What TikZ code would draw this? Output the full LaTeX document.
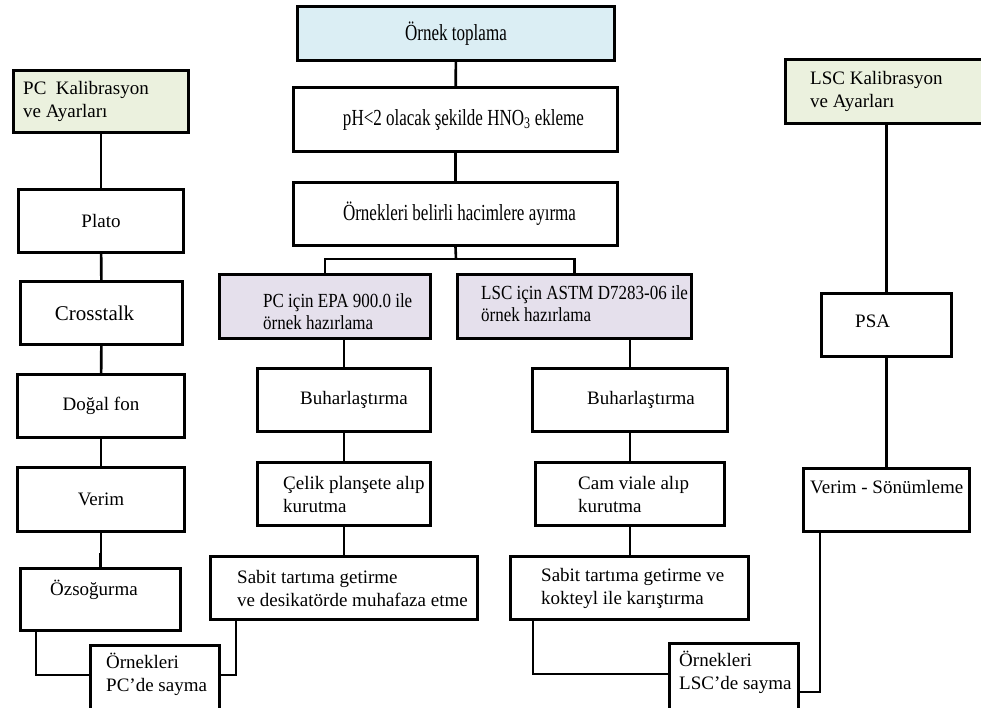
\documentclass[tikz,border=0pt]{standalone}
\usepackage{fontspec}
\setmainfont{Liberation Serif}
\newfontfamily\condfont[FakeStretch=0.74]{Liberation Serif}
\newfontfamily\semicondfont[FakeStretch=0.85]{Liberation Serif}
\definecolor{topblue}{HTML}{DBEEF4}
\definecolor{lav}{HTML}{E5E0EC}
\definecolor{grn}{HTML}{EBF1DE}
\tikzset{
  box/.style={draw, line width=2.6pt, inner sep=0pt},
  txt/.style={inner sep=0pt, align=left, font=\fontsize{19}{23}\selectfont},
  cond/.style={font=\condfont\fontsize{23}{27}\selectfont},
  semicond/.style={font=\semicondfont\fontsize{20}{22}\selectfont},
  conn/.style={line width=2.6pt},
}
\newcommand\mkbox[6]{%
  \node[box, fill=#6, minimum width={#4-#2-2.6}, minimum height={#5-#3-2.6}] (#1) at ({(#2+#4)/2},{(#3+#5)/2}) {};}
\begin{document}
\begin{tikzpicture}[x=1pt,y=-1pt]
\useasboundingbox (0,0) rectangle (981,708);
\clip (0,0) rectangle (981,708);
\fill[white] (0,0) rectangle (981,708);
% centre column
\mkbox{top}{296}{5}{616}{62}{topblue}
\node[txt, cond] (topt) at (top) {Örnek toplama};
\mkbox{ph}{292}{86}{619}{153}{white}
\node[txt, cond] (pht) at ([xshift=8pt]ph.center) {pH<2 olacak şekilde HNO\textsubscript{3} ekleme};
\mkbox{bel}{292}{181}{619}{247}{white}
\node[txt, cond] (belt) at ([xshift=4pt]bel.center) {Örnekleri belirli hacimlere ayırma};
\mkbox{pcprep}{218}{273}{432}{340}{lav}
\node[txt, semicond, anchor=west] (pcprept) at ([xshift=45pt,yshift=-5pt]pcprep.west) {PC için EPA 900.0 ile\\örnek hazırlama};
\mkbox{lscprep}{456}{273}{693}{340}{lav}
\node[txt, semicond, anchor=west] (lscprept) at ([xshift=25pt,yshift=3pt]lscprep.west) {LSC için ASTM D7283-06 ile\\örnek hazırlama};
\mkbox{pcbuh}{256}{367}{432}{433}{white}
\node[txt, anchor=west] (pcbuht) at ([xshift=44pt]pcbuh.west) {Buharlaştırma};
\mkbox{pccelik}{256}{461}{432}{527}{white}
\node[txt, anchor=west] (pccelikt) at ([xshift=27pt]pccelik.west) {Çelik planşete alıp\\kurutma};
\mkbox{pcsabit}{209}{555}{479}{621}{white}
\node[txt, anchor=west] (pcsabitt) at ([xshift=28pt]pcsabit.west) {Sabit tartıma getirme\\ve desikatörde muhafaza etme};
\mkbox{lscbuh}{531}{367}{729}{433}{white}
\node[txt, anchor=west] (lscbuht) at ([xshift=56pt]lscbuh.west) {Buharlaştırma};
\mkbox{lsccam}{534}{461}{726}{527}{white}
\node[txt, anchor=west] (lsccamt) at ([xshift=44pt]lsccam.west) {Cam viale alıp\\kurutma};
\mkbox{lscsabit}{509}{555}{750}{621}{white}
\node[txt, anchor=west] (lscsabitt) at ([xshift=32pt]lscsabit.west) {Sabit tartıma getirme ve\\kokteyl ile karıştırma};
\mkbox{pcsay}{89}{644}{221}{730}{white}
\node[txt, anchor=north west] (pcsayt) at ([xshift=17pt,yshift=-9pt]pcsay.north west) {Örnekleri\\PC’de sayma};
\mkbox{lscsay}{668}{642}{800}{730}{white}
\node[txt, anchor=north west] (lscsayt) at ([xshift=11pt,yshift=-9pt]lscsay.north west) {Örnekleri\\LSC’de sayma};
% left column
\mkbox{pckal}{12}{69}{190}{134}{grn}
\node[txt, anchor=west] (pckalt) at ([xshift=11pt]pckal.west) {PC~~Kalibrasyon\\ve Ayarları};
\mkbox{plato}{17}{188}{185}{254}{white}
\node[txt] (platot) at (plato) {Plato};
\mkbox{cross}{19}{280}{184}{346}{white}
\node[txt, font=\fontsize{21}{25}\selectfont] (crosst) at ([xshift=-7pt]cross.center) {Crosstalk};
\mkbox{dogal}{16}{373}{186}{439}{white}
\node[txt] (dogalt) at (dogal) {Doğal fon};
\mkbox{verim}{16}{466}{186}{533}{white}
\node[txt] (verimt) at (verim) {Verim};
\mkbox{ozs}{19}{567}{182}{632}{white}
\node[txt, anchor=west] (ozst) at ([xshift=31pt,yshift=10pt]ozs.west) {Özsoğurma};
% right column
\mkbox{lsckal}{784}{58}{995}{125}{grn}
\node[txt, anchor=west] (lsckalt) at ([xshift=26pt]lsckal.west) {LSC Kalibrasyon\\ve Ayarları};
\mkbox{psa}{820}{292}{953}{358}{white}
\node[txt, anchor=west] (psat) at ([xshift=35pt,yshift=4pt]psa.west) {PSA};
\mkbox{vs}{802}{467}{971}{533}{white}
\node[txt, anchor=west] (vst) at ([xshift=8pt,yshift=13pt]vs.west) {Verim - Sönümleme};
% connectors
\coordinate (br) at (456,259);
\draw[conn] (top) -- (ph);
\draw[conn] (ph) -- (bel);
\draw[conn] (bel.south) -- (br);
\draw[conn] (pcprep.north) |- (br) -| (lscprep.north);
\draw[conn] (pcbuh.north) -- (pcbuh.north |- pcprep.south);
\draw[conn] (lscbuh.north) -- (lscbuh.north |- lscprep.south);
\draw[conn] (pcbuh) -- (pccelik);
\draw[conn] (pccelik) -- (pcsabit.north -| pccelik.south);
\draw[conn] (lscbuh) -- (lsccam);
\draw[conn] (lsccam) -- (lscsabit.north -| lsccam.south);
\draw[conn] ([xshift=27pt]pcsabit.south west) |- (pcsay.east |- 0,675);
\draw[conn] ([xshift=17pt]ozs.south west) |- (pcsay.west |- 0,675);
\draw[conn] ([xshift=24pt]lscsabit.south west) |- (lscsay.west |- 0,674);
\draw[conn] ([xshift=18pt]vs.south west) |- (lscsay.east |- 0,692);
\draw[conn] (pckal) -- (plato);
\draw[conn] (plato) -- (cross);
\draw[conn] (cross) -- (dogal);
\draw[conn] (dogal) -- (verim);
\draw[conn] (verim.south) -- ++(0,21) -| (ozs.north);
\draw[conn] (lsckal.south -| psa.north) -- (psa.north);
\draw[conn] (psa) -- (vs);
\end{tikzpicture}
\end{document}
